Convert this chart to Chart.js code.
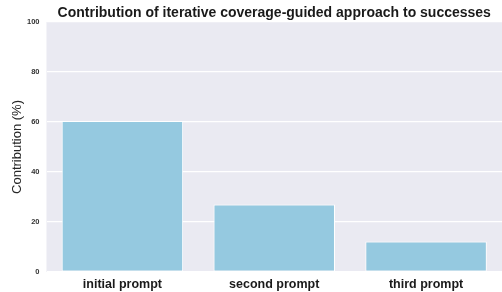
<!DOCTYPE html>
<html>
<head>
<meta charset="utf-8">
<script src="https://cdn.jsdelivr.net/npm/chart.js@4"></script>
<style>
    body { margin: 0; background: #fff; }
    canvas { display: block; }
</style>
</head>
<body>
<canvas id="chartCanvas" width="502" height="292"></canvas>
<script>
const categories = ['initial prompt', 'second prompt', 'third prompt'];
const contribution = [60.4, 27.0, 12.2];
const yTicks = [0, 20, 40, 60, 80, 100];

const plotBackground = {
    id: 'plotBackground',
    beforeDraw(chart) {
        const { ctx, chartArea } = chart;
        ctx.save();
        ctx.fillStyle = '#EAEAF2';
        ctx.fillRect(chartArea.left, chartArea.top, chartArea.right - chartArea.left, chartArea.bottom - chartArea.top);
        ctx.restore();
    }
};

const ctx = document.getElementById('chartCanvas').getContext('2d');

new Chart(ctx, {
    type: 'bar',
    data: {
        labels: categories,
        datasets: [{
            label: 'Contribution (%)',
            data: contribution,
            backgroundColor: '#95C9E0',
            borderColor: '#ffffff',
            borderWidth: 1,
            borderSkipped: false,
            barPercentage: 0.8,
            categoryPercentage: 1.0
        }]
    },
    options: {
        responsive: false,
        animation: false,
        devicePixelRatio: 1,
        layout: { padding: 0 },
        plugins: {
            legend: { display: false },
            tooltip: { enabled: false },
            title: {
                display: true,
                text: 'Contribution of iterative coverage-guided approach to successes',
                fullSize: false,
                color: '#1a1a1a',
                font: { family: 'Liberation Sans, Arial, sans-serif', size: 14, weight: 'bold' },
                padding: { top: 5.2, bottom: 0 }
            }
        },
        scales: {
            x: {
                grid: { display: false, drawTicks: false },
                border: { display: false },
                ticks: {
                    color: '#1a1a1a',
                    padding: 5,
                    font: { family: 'Liberation Sans, Arial, sans-serif', size: 12.5, weight: 'bold' }
                },
                afterFit: s => { s.height = 20; }
            },
            y: {
                min: 0,
                max: 100,
                afterBuildTicks: s => { s.ticks = yTicks.map(v => ({ value: v })); },
                grid: { color: '#ffffff', lineWidth: 1.2, drawTicks: false },
                border: { display: false },
                ticks: {
                    color: '#333333',
                    padding: 7,
                    font: { family: 'Liberation Sans, Arial, sans-serif', size: 7.5, weight: 'bold' }
                },
                title: {
                    display: true,
                    text: 'Contribution (%)',
                    color: '#262626',
                    font: { family: 'Liberation Sans, Arial, sans-serif', size: 13 },
                    padding: { top: 10, bottom: 0 }
                },
                afterFit: s => { s.width = 46.5; }
            }
        }
    },
    plugins: [plotBackground]
});
</script>
</body>
</html>
